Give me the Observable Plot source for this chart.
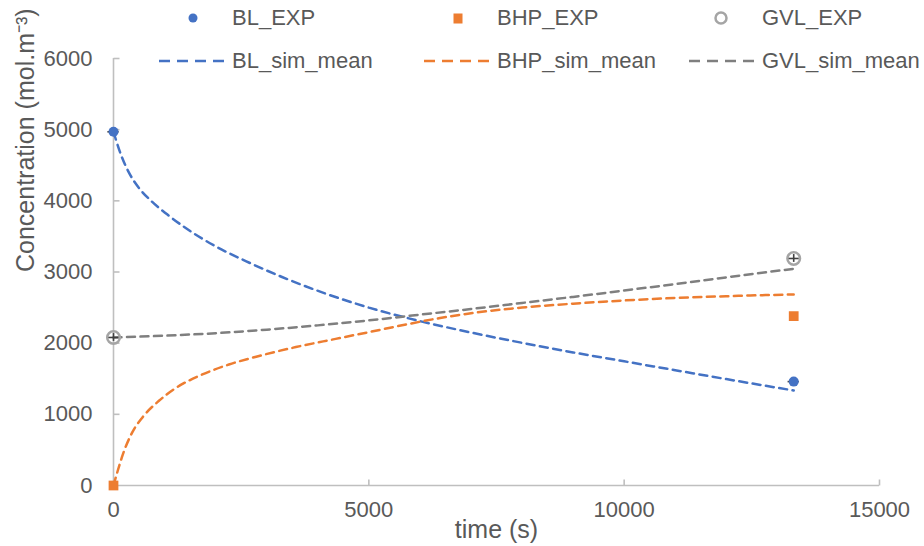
<!DOCTYPE html>
<html>
<head>
<meta charset="utf-8">
<script src="https://cdn.jsdelivr.net/npm/d3@7"></script>
<script src="https://cdn.jsdelivr.net/npm/@observablehq/plot@0.6"></script>
<style>
  body { margin: 0; background: #fff; }
  #wrap { position: relative; width: 924px; height: 546px; font-family: "Liberation Sans", Arial, sans-serif; color: #595959; }
  #legend { position: absolute; left: 159px; top: 4px; }
  .lrow { display: flex; height: 28px; margin-bottom: 15px; }
  .litem { display: flex; align-items: center; width: 265px; }
  .litem svg { flex: none; }
  .litem span { margin-left: 8px; font-size: 22px; line-height: 28px; white-space: nowrap; }
</style>
</head>
<body>
<div id="wrap"></div>
<script>
// ---- data ----
const expT = [0, 13320];
const blExpV = [4970, 1460];
const bhpExpV = [0, 2380];
const gvlExpV = [2080, 3190];

const blSimT = [0, 60, 150, 300, 500, 750, 1050, 1450, 2000, 2600, 3300, 4100, 5000, 6000, 7000, 8000, 9000, 10000, 11000, 12000, 13320];
const blSimV = [4970, 4830, 4640, 4400, 4180, 3990, 3810, 3600, 3360, 3150, 2930, 2710, 2500, 2310, 2150, 2005, 1870, 1745, 1620, 1495, 1335];

const bhpSimT = [0, 80, 180, 370, 570, 890, 1220, 1740, 2260, 2850, 3570, 4350, 5000, 5780, 6370, 7000, 8000, 9000, 10000, 11000, 12000, 13320];
const bhpSimV = [0, 200, 430, 750, 960, 1190, 1370, 1560, 1700, 1820, 1945, 2060, 2155, 2270, 2350, 2420, 2500, 2555, 2600, 2635, 2660, 2685];

const gvlSimT = [0, 1000, 2000, 3000, 4000, 5000, 6000, 7000, 8000, 9000, 10000, 11000, 12000, 13320];
const gvlSimV = [2080, 2105, 2140, 2190, 2250, 2320, 2400, 2480, 2565, 2650, 2740, 2830, 2925, 3045];

// small error bars on experimental points (BL and GVL)
const errT = 110;
const errV = 55;

const xTicks = [0, 5000, 10000, 15000];
const yTicks = [0, 1000, 2000, 3000, 4000, 5000, 6000];

const expLabels = ["BL_EXP", "BHP_EXP", "GVL_EXP"];
const simLabels = ["BL_sim_mean", "BHP_sim_mean", "GVL_sim_mean"];
const seriesColors = ["#4472C4", "#ED7D31", "#A5A5A5"];
const simColors = ["#4472C4", "#ED7D31", "#7F7F7F"];
const xLabel = "time (s)";
const yLabel = "Concentration (mol.m\u207B\u00B3)";

// ---- build tables ----
const zip = (T, V) => T.map((t, i) => ({t, v: V[i]}));
const blExp = zip(expT, blExpV), bhpExp = zip(expT, bhpExpV), gvlExp = zip(expT, gvlExpV);
const blSim = zip(blSimT, blSimV), bhpSim = zip(bhpSimT, bhpSimV), gvlSim = zip(gvlSimT, gvlSimV);
const errRows = [...blExp, ...gvlExp];

const tickRight = {draw(ctx) { ctx.moveTo(0, 0); ctx.lineTo(6, 0); }};
const tickUp = {draw(ctx) { ctx.moveTo(0, 0); ctx.lineTo(0, -6); }};

const axisColor = "#BFBFBF";
const dash = "8,5.5";

const chart = Plot.plot({
  width: 924,
  height: 546,
  marginLeft: 113,
  marginRight: 45,
  marginTop: 58,
  marginBottom: 61,
  style: {fontFamily: '"Liberation Sans", Arial, sans-serif', fontSize: "22px", color: "#595959", background: "#fff", overflow: "visible"},
  x: {domain: [0, 15000]},
  y: {domain: [0, 6000]},
  marks: [
    Plot.axisX(xTicks, {tickSize: 0, tickPadding: 16, label: null, tickFormat: d => String(d)}),
    Plot.axisY(yTicks, {tickSize: 0, tickPadding: 21, label: null, tickFormat: d => String(d)}),
    Plot.ruleX([0], {stroke: axisColor, strokeWidth: 1.6}),
    Plot.ruleY([0], {stroke: axisColor, strokeWidth: 1.6}),
    Plot.dot(yTicks.filter(d => d > 0), {y: d => d, frameAnchor: "left", symbol: tickRight, fill: "none", stroke: axisColor, strokeWidth: 1.6}),
    Plot.dot(xTicks.filter(d => d > 0), {x: d => d, frameAnchor: "bottom", symbol: tickUp, fill: "none", stroke: axisColor, strokeWidth: 1.6}),
    Plot.text([xLabel], {frameAnchor: "bottom", dy: 52, fontSize: 25, fill: "#595959"}),
    Plot.text([yLabel], {frameAnchor: "left", dx: -88, rotate: -90, fontSize: 25, fill: "#595959"}),
    Plot.line(blSim, {x: "t", y: "v", stroke: simColors[0], strokeWidth: 2.5, strokeDasharray: dash, curve: "monotone-x"}),
    Plot.line(bhpSim, {x: "t", y: "v", stroke: simColors[1], strokeWidth: 2.5, strokeDasharray: dash, curve: "monotone-x"}),
    Plot.line(gvlSim, {x: "t", y: "v", stroke: simColors[2], strokeWidth: 2.5, strokeDasharray: dash, curve: "monotone-x"}),
    Plot.ruleY(errRows, {y: "v", x1: d => d.t - errT, x2: d => d.t + errT, stroke: "#404040", strokeWidth: 1.6}),
    Plot.ruleX(errRows, {x: "t", y1: d => d.v - errV, y2: d => d.v + errV, stroke: "#404040", strokeWidth: 1.6}),
    Plot.dot(blExp, {x: "t", y: "v", r: 5, fill: seriesColors[0]}),
    Plot.dot(bhpExp, {x: "t", y: "v", r: 5.5, symbol: "square", fill: seriesColors[1]}),
    Plot.dot(gvlExp, {x: "t", y: "v", r: 6.3, fill: "none", stroke: seriesColors[2], strokeWidth: 2.5})
  ]
});

const wrap = document.getElementById("wrap");
wrap.appendChild(chart);

// ---- legend ----
const legend = document.createElement("div");
legend.id = "legend";
const ns = "http://www.w3.org/2000/svg";
function symSvg(kind, color) {
  const s = document.createElementNS(ns, "svg");
  s.setAttribute("width", 65); s.setAttribute("height", 28);
  let el;
  if (kind === "dot") {
    el = document.createElementNS(ns, "circle");
    el.setAttribute("cx", 34); el.setAttribute("cy", 14); el.setAttribute("r", 4.5); el.setAttribute("fill", color);
  } else if (kind === "square") {
    el = document.createElementNS(ns, "rect");
    el.setAttribute("x", 29.5); el.setAttribute("y", 9.5); el.setAttribute("width", 9); el.setAttribute("height", 10); el.setAttribute("fill", color);
  } else if (kind === "ring") {
    el = document.createElementNS(ns, "circle");
    el.setAttribute("cx", 32); el.setAttribute("cy", 14); el.setAttribute("r", 5.5); el.setAttribute("fill", "none");
    el.setAttribute("stroke", color); el.setAttribute("stroke-width", 2.5);
  } else {
    el = document.createElementNS(ns, "line");
    el.setAttribute("x1", 0); el.setAttribute("x2", 65); el.setAttribute("y1", 14); el.setAttribute("y2", 14);
    el.setAttribute("stroke", color); el.setAttribute("stroke-width", 2.5); el.setAttribute("stroke-dasharray", "11,7");
  }
  s.appendChild(el);
  return s;
}
const kinds = ["dot", "square", "ring"];
const row1 = document.createElement("div"); row1.className = "lrow";
expLabels.forEach((lab, i) => {
  const it = document.createElement("div"); it.className = "litem";
  it.appendChild(symSvg(kinds[i], seriesColors[i]));
  const sp = document.createElement("span"); sp.textContent = lab; it.appendChild(sp);
  row1.appendChild(it);
});
const row2 = document.createElement("div"); row2.className = "lrow";
simLabels.forEach((lab, i) => {
  const it = document.createElement("div"); it.className = "litem";
  it.appendChild(symSvg("line", simColors[i]));
  const sp = document.createElement("span"); sp.textContent = lab; it.appendChild(sp);
  row2.appendChild(it);
});
legend.appendChild(row1); legend.appendChild(row2);
wrap.appendChild(legend);
</script>
</body>
</html>
